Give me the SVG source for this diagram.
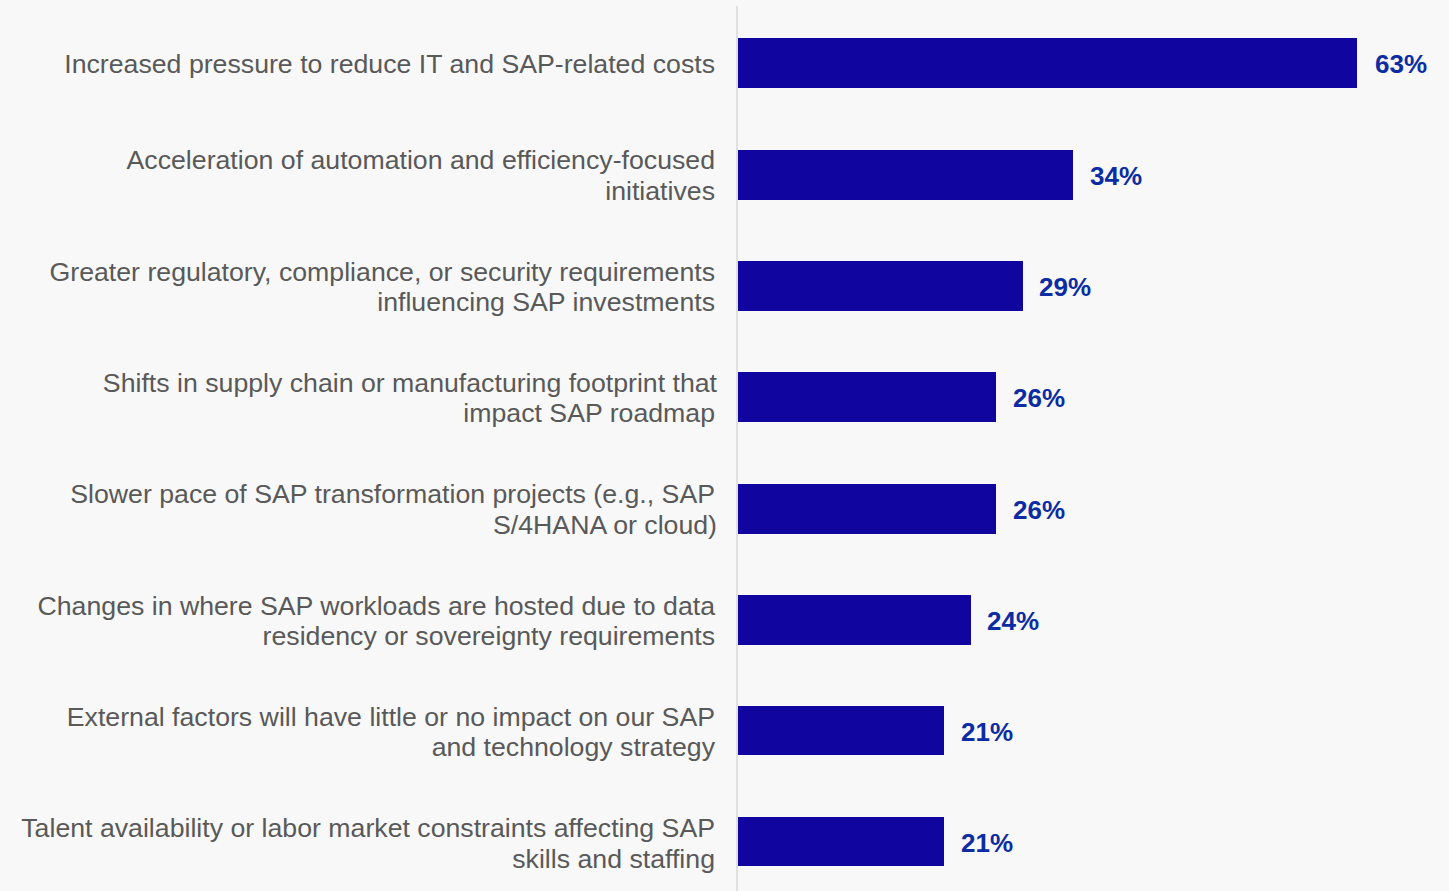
<svg xmlns="http://www.w3.org/2000/svg" width="1449" height="891" viewBox="0 0 1449 891">
<style>
.cat{font-family:"Liberation Sans",Arial,sans-serif;font-size:26.7px;fill:#595959;text-anchor:end}
.val{font-family:"Liberation Sans",Arial,sans-serif;font-size:26px;font-weight:bold;fill:#0b2ca3}
.bar{fill:#10069f}
</style>
<rect x="0" y="0" width="1449" height="891" fill="#f8f8f8"/>
<g id="axis"><line x1="737" y1="6" x2="737" y2="891" stroke="#d9d9d9" stroke-width="1.5"/></g>
<g id="row1">
<text class="cat" x="715" y="73">Increased pressure to reduce IT and SAP-related costs</text>
<rect class="bar" x="738" y="38" width="619" height="50"/>
<text class="val" x="1375" y="73">63%</text>
</g>
<g id="row2">
<text class="cat" x="715" y="169">Acceleration of automation and efficiency-focused</text>
<text class="cat" x="715" y="199.5">initiatives</text>
<rect class="bar" x="738" y="150" width="335" height="50"/>
<text class="val" x="1090" y="185">34%</text>
</g>
<g id="row3">
<text class="cat" x="715" y="280.5">Greater regulatory, compliance, or security requirements</text>
<text class="cat" x="715" y="311">influencing SAP investments</text>
<rect class="bar" x="738" y="261" width="285" height="50"/>
<text class="val" x="1039" y="296">29%</text>
</g>
<g id="row4">
<text class="cat" x="717" y="391.5">Shifts in supply chain or manufacturing footprint that</text>
<text class="cat" x="715" y="422">impact SAP roadmap</text>
<rect class="bar" x="738" y="372" width="258" height="50"/>
<text class="val" x="1013" y="407">26%</text>
</g>
<g id="row5">
<text class="cat" x="715" y="503">Slower pace of SAP transformation projects (e.g., SAP</text>
<text class="cat" x="717" y="533.5">S/4HANA or cloud)</text>
<rect class="bar" x="738" y="484" width="258" height="50"/>
<text class="val" x="1013" y="519">26%</text>
</g>
<g id="row6">
<text class="cat" x="715" y="614.5">Changes in where SAP workloads are hosted due to data</text>
<text class="cat" x="715" y="645">residency or sovereignty requirements</text>
<rect class="bar" x="738" y="595" width="233" height="50"/>
<text class="val" x="987" y="630">24%</text>
</g>
<g id="row7">
<text class="cat" x="715" y="725.5">External factors will have little or no impact on our SAP</text>
<text class="cat" x="715" y="756">and technology strategy</text>
<rect class="bar" x="738" y="706" width="206" height="49"/>
<text class="val" x="961" y="741">21%</text>
</g>
<g id="row8">
<text class="cat" x="715" y="837">Talent availability or labor market constraints affecting SAP</text>
<text class="cat" x="715" y="867.5">skills and staffing</text>
<rect class="bar" x="738" y="817" width="206" height="49"/>
<text class="val" x="961" y="852">21%</text>
</g>
</svg>
